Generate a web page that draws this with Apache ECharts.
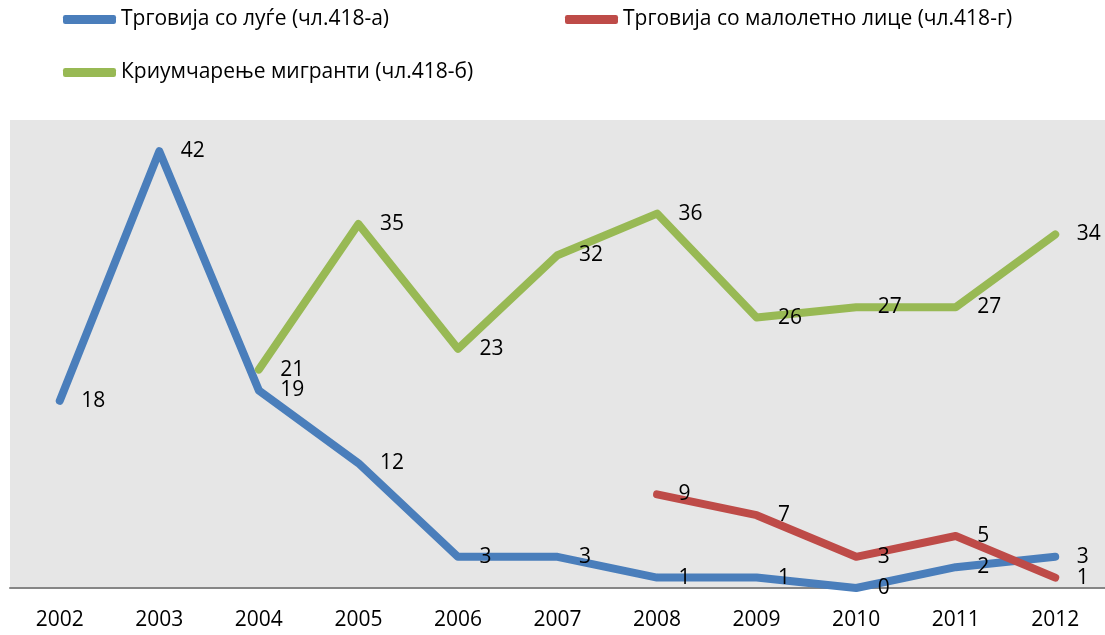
<!DOCTYPE html>
<html>
<head>
<meta charset="utf-8">
<style>
    html, body { margin: 0; padding: 0; overflow: hidden; background: #fff; }
</style>
</head>
<body>
<div id="line" style="width:1105px; height:635px;"></div>
<script src="https://cdn.jsdelivr.net/npm/echarts@6/dist/echarts.min.js"></script>
<script>
    var years = ['2002', '2003', '2004', '2005', '2006', '2007', '2008', '2009', '2010', '2011', '2012'];
    var names = ['Трговија со луѓе (чл.418-а)', 'Трговија со малолетно лице (чл.418-г)', 'Криумчарење мигранти (чл.418-б)'];
    var trafficking = [18, 42, 19, 12, 3, 3, 1, 1, 0, 2, 3];
    var minors = [null, null, null, null, null, null, 9, 7, 3, 5, 1];
    var smuggling = [null, null, 21, 35, 23, 32, 36, 26, 27, 27, 34];
    var colors = ['#4a7ebb', '#be4b48', '#98b954'];

    var font = '"Open Sans", "Noto Sans", sans-serif';
    var chart = echarts.init(document.getElementById('line'), null, {renderer: 'canvas'});

    function legendAt(i, left, top) {
        return {
            data: [names[i]],
            left: left,
            top: top,
            icon: 'roundRect',
            itemWidth: 53,
            itemHeight: 9,
            selectedMode: false,
            textStyle: {fontFamily: font, fontSize: 21, color: '#000'}
        };
    }

    function makeSeries(i, data) {
        return {
            name: names[i],
            type: 'line',
            data: data,
            symbol: 'circle',
            symbolSize: 1,
            showAllSymbol: true,
            itemStyle: {color: colors[i]},
            lineStyle: {width: 8, color: colors[i], cap: 'round', join: 'round'},
            label: {
                show: true,
                position: 'right',
                distance: 21,
                fontFamily: font,
                fontSize: 21,
                color: '#000'
            },
            emphasis: {disabled: true},
            animation: false
        };
    }

    chart.setOption({
        color: colors,
        legend: [
            legendAt(0, 58, 4),
            legendAt(1, 560, 4),
            legendAt(2, 58, 57)
        ],
        grid: {
            left: 10, right: 0, top: 120, bottom: 47,
            show: true, backgroundColor: '#e6e6e6', borderWidth: 0
        },
        xAxis: {
            type: 'category',
            data: years,
            boundaryGap: true,
            axisLine: {lineStyle: {color: '#868686', width: 2}},
            axisTick: {show: false},
            axisLabel: {fontFamily: font, fontSize: 21, color: '#000', margin: 22}
        },
        yAxis: {
            type: 'value',
            min: 0,
            max: 45,
            show: false,
            splitLine: {show: false}
        },
        series: [
            makeSeries(0, trafficking),
            makeSeries(1, minors),
            makeSeries(2, smuggling)
        ]
    });
</script>
</body>
</html>
